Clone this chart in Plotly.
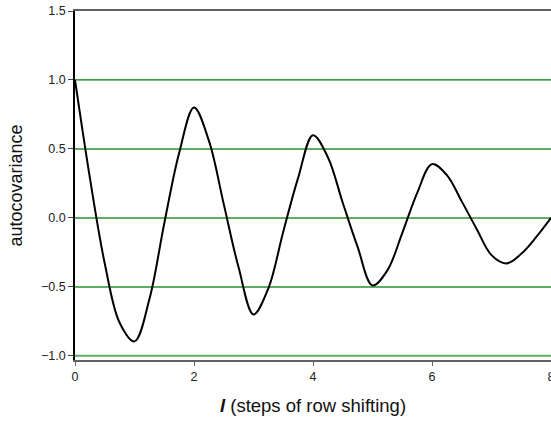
import plotly.graph_objects as go

# Autocovariance versus lag l (steps of row shifting), sampled every quarter step
lag = [0.0, 0.25, 0.5, 0.75, 1.0, 1.25, 1.5, 1.75, 2.0, 2.25, 2.5, 2.75,
       3.0, 3.25, 3.5, 3.75, 4.0, 4.25, 4.5, 4.75, 5.0, 5.25, 5.5, 5.75,
       6.0, 6.25, 6.5, 6.75, 7.0, 7.25, 7.5, 7.75, 8.0]
autocov = [1.0, 0.29, -0.33, -0.76, -0.895, -0.59, -0.04, 0.47, 0.80, 0.56, 0.10, -0.36,
           -0.70, -0.51, -0.10, 0.29, 0.60, 0.44, 0.11, -0.21, -0.49, -0.38, -0.11, 0.18,
           0.39, 0.31, 0.12, -0.08, -0.27, -0.33, -0.26, -0.14, 0.0]

y_ticks = [-1.0, -0.5, 0.0, 0.5, 1.0, 1.5]
x_ticks = [0, 2, 4, 6, 8]
grid_levels = [1.0, 0.5, 0.0, -0.5, -1.0]

FONT = "Liberation Sans, Arial, sans-serif"

fig = go.Figure()
fig.add_trace(go.Scatter(
    x=lag, y=autocov, mode="lines",
    line=dict(color="black", width=2, shape="spline", smoothing=1.0),
    hoverinfo="skip", showlegend=False, cliponaxis=False,
))

# horizontal reference lines
for lvl in grid_levels:
    strong = lvl == 1.0
    fig.add_shape(type="line", xref="paper", x0=0, x1=1, yref="y", y0=lvl, y1=lvl,
                  line=dict(color="#008000" if strong else "#5fae5f",
                            width=1.2 if strong else 2),
                  layer="below")

fig.update_layout(
    width=551, height=421,
    margin=dict(l=75, r=0, t=11, b=61),
    paper_bgcolor="white", plot_bgcolor="white",
    font=dict(family=FONT, size=13, color="#222"),
    xaxis=dict(
        range=[0, 8], tickvals=x_ticks, ticktext=[str(v) for v in x_ticks],
        showgrid=False, zeroline=False, automargin=False,
        showline=True, linecolor="#606060", linewidth=2, mirror=True,
        ticks="outside", ticklen=4, tickcolor="#606060", tickwidth=1,
        tickfont=dict(size=12.5, color="#222"), ticklabeloverflow="allow",
        title=dict(text="<b><i>l</i></b> (steps of row shifting)",
                   font=dict(size=18.5, color="#111"), standoff=16),
    ),
    yaxis=dict(
        range=[-1.03, 1.5], tickvals=y_ticks, tickformat=".1f",
        showgrid=False, zeroline=False, automargin=False,
        showline=True, linecolor="black", linewidth=1.5,
        ticks="outside", ticklen=5, tickcolor="#444", tickwidth=1,
        tickfont=dict(size=12.5, color="#222"),
        title=dict(text="autocovariance", font=dict(size=18, color="#111"), standoff=14),
    ),
)

fig.write_html("out.html")
